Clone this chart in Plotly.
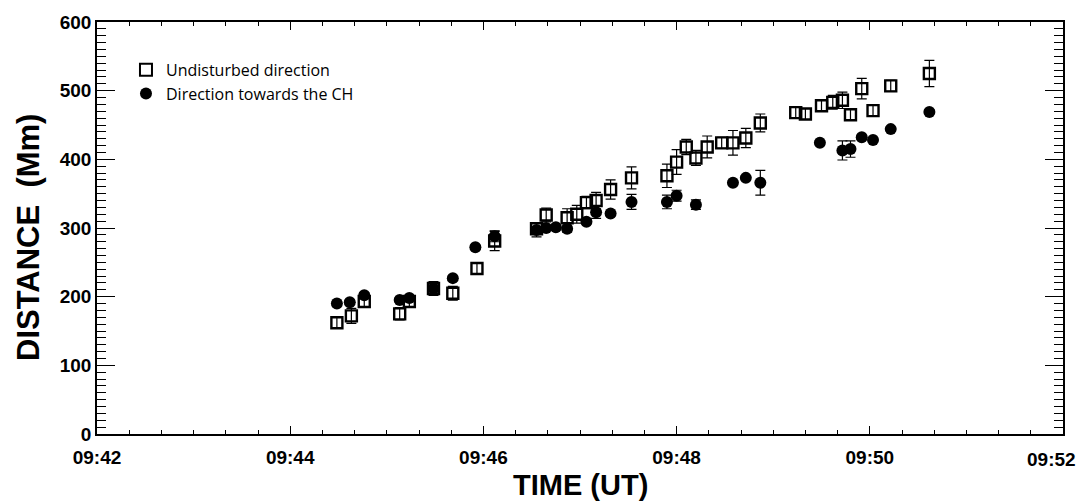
import plotly.graph_objects as go

# ---- data ----
DAY = "2000-01-01 "
und_time = ["09:44:29", "09:44:38", "09:44:46", "09:45:08", "09:45:14", "09:45:29",
            "09:45:41", "09:45:56", "09:46:07", "09:46:33", "09:46:39", "09:46:52",
            "09:46:58", "09:47:04", "09:47:10", "09:47:19", "09:47:32", "09:47:54",
            "09:48:00", "09:48:06", "09:48:12", "09:48:19", "09:48:28", "09:48:35",
            "09:48:43", "09:48:52", "09:49:14", "09:49:20", "09:49:30", "09:49:37",
            "09:49:43", "09:49:48", "09:49:55", "09:50:02", "09:50:13", "09:50:37"]
und_dist = [162, 172, 193, 175, 193, 212,
            205, 241, 281, 299, 319, 315,
            320, 337, 340, 356, 373, 376,
            396, 418, 402, 418, 424, 424,
            431, 453, 468, 466, 478, 483,
            486, 465, 503, 471, 507, 525]
und_err = [8, 11, 8, 9, 8, 10,
           10, 8, 14, 8, 10, 13,
           13, 9, 12, 14, 16, 17,
           18, 11, 11, 16, 8, 18,
           14, 13, 8, 8, 8, 10,
           12, 8, 15, 8, 8, 19]

ch_time = ["09:44:29", "09:44:37", "09:44:46", "09:45:08", "09:45:14", "09:45:29",
           "09:45:41", "09:45:55", "09:46:07", "09:46:33", "09:46:39", "09:46:45",
           "09:46:52", "09:47:04", "09:47:10", "09:47:19", "09:47:32", "09:47:54",
           "09:48:00", "09:48:12", "09:48:35", "09:48:43", "09:48:52", "09:49:29",
           "09:49:43", "09:49:48", "09:49:55", "09:50:02", "09:50:13", "09:50:37"]
ch_dist = [190, 192, 202, 195, 198, 212,
           227, 272, 288, 297, 300, 301,
           299, 309, 323, 321, 338, 338,
           347, 334, 366, 373, 366, 424,
           413, 415, 432, 428, 444, 469]
ch_err = [3, 3, 4, 3, 3, 4,
          3, 3, 8, 10, 3, 3,
          5, 3, 9, 3, 11, 10,
          8, 7, 3, 3, 18, 3,
          14, 12, 3, 3, 3, 3]

x_range = ["09:42", "09:52"]
x_title = "TIME (UT)"
y_title = "DISTANCE  (Mm)"
legend_names = ["Undisturbed direction", "Direction towards the CH"]

BOLD = "Liberation Sans"
TICKFONT = dict(family=BOLD, size=19, color="black", weight="bold")
fig = go.Figure()

fig.add_trace(go.Scatter(
    x=[DAY + t for t in und_time], y=und_dist, mode="markers",
    name=legend_names[0],
    marker=dict(symbol="square-open", size=11, color="black",
                line=dict(color="black", width=2.4)),
    error_y=dict(type="data", array=und_err, visible=True, color="black",
                 thickness=1.2, width=5),
))
fig.add_trace(go.Scatter(
    x=[DAY + t for t in ch_time], y=ch_dist, mode="markers",
    name=legend_names[1],
    marker=dict(symbol="circle", size=12, color="black"),
    error_y=dict(type="data", array=ch_err, visible=True, color="black",
                 thickness=1.2, width=5),
))

fig.update_layout(
    width=1080, height=504,
    margin=dict(l=97, r=17, t=16, b=70),
    paper_bgcolor="white", plot_bgcolor="white",
    showlegend=True,
    legend=dict(x=0.03, y=0.925, xanchor="left", yanchor="top",
                bgcolor="rgba(0,0,0,0)", borderwidth=0,
                font=dict(family="Open Sans", size=16, color="black"),
                itemsizing="constant", tracegroupgap=2),
    font=dict(family=BOLD, color="black"),
    annotations=[
        # last time label sits at the right edge of the page (shifted inward as in the reference)
        dict(text=x_range[1], xref="paper", yref="paper", x=1, y=0,
             xanchor="center", yanchor="top", xshift=-12, yshift=-13,
             showarrow=False, font=TICKFONT),
        dict(text=x_title, xref="paper", yref="paper", x=0.5, y=0,
             xanchor="center", yanchor="middle", yshift=-51,
             showarrow=False,
             font=dict(family=BOLD, size=29, color="black", weight="bold")),
        dict(text=y_title, xref="paper", yref="paper", x=0, y=0.5,
             xanchor="center", yanchor="middle", xshift=-69, yshift=-10,
             textangle=-90, showarrow=False,
             font=dict(family=BOLD, size=31, color="black", weight="bold")),
    ],
)

fig.update_xaxes(
    type="date",
    range=[DAY + x_range[0], DAY + x_range[1]],
    dtick=120000, tick0=DAY + "09:42", tickformat="%H:%M",
    ticks="inside", ticklen=8, tickwidth=1, tickcolor="black",
    minor=dict(dtick=20000, ticks="inside", ticklen=4, tickcolor="black", tickwidth=1),
    showline=True, linecolor="black", linewidth=1.5, mirror="ticks",
    showgrid=False, zeroline=False,
    tickfont=TICKFONT, ticklabelstandoff=5,
)
fig.update_yaxes(
    range=[0, 600], dtick=100, tick0=0,
    ticks="inside", ticklen=18, tickwidth=1, tickcolor="black",
    minor=dict(dtick=10, ticks="inside", ticklen=9, tickcolor="black", tickwidth=1),
    showline=True, linecolor="black", linewidth=1.5, mirror="ticks",
    showgrid=False, zeroline=False,
    tickfont=TICKFONT,
)

fig.write_html("out.html")
